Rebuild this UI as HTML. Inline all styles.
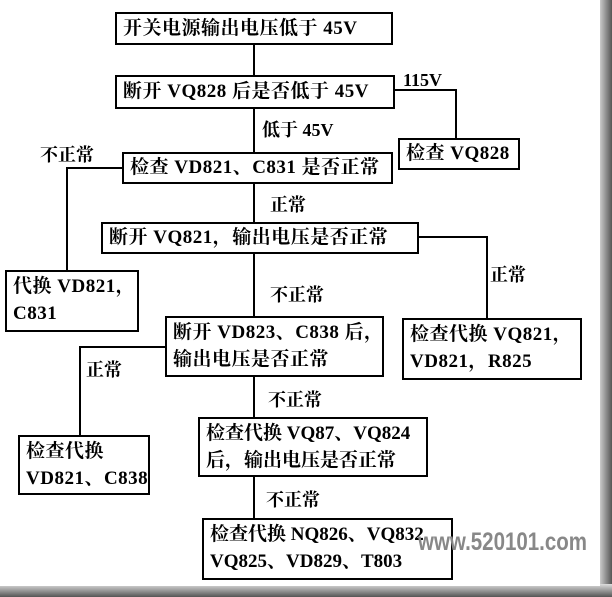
<!DOCTYPE html>
<html><head><meta charset="utf-8"><style>
html,body{margin:0;padding:0;background:#fff;}
body{width:612px;height:597px;position:relative;overflow:hidden;font-family:"Liberation Serif","Noto Serif CJK SC","Noto Sans CJK SC",serif;font-weight:bold;color:#000;}
.b{position:absolute;border:2px solid #000;box-sizing:border-box;font-size:19px;line-height:27px;padding:1px 6px 0;white-space:nowrap;background:#fff;letter-spacing:0.5px;}
.s{padding-top:0;}
.t{position:absolute;font-size:18px;line-height:20px;white-space:nowrap;}
.h{position:absolute;height:2px;background:#000;}
.v{position:absolute;width:2px;background:#000;}
</style></head><body>
<div style="position:absolute;left:598px;top:0;width:14px;height:597px;background:linear-gradient(to right,#ddd,#555);"></div>
<div style="position:absolute;left:0;top:584px;width:612px;height:13px;background:linear-gradient(#ddd,#555);"></div>
<div style="position:absolute;left:0;top:0;width:600px;height:586px;background:#fff;"></div>

<div class="v" style="left:253px;top:44px;height:32px"></div>
<div class="v" style="left:253px;top:108px;height:45px"></div>
<div class="v" style="left:253px;top:183px;height:40px"></div>
<div class="v" style="left:253px;top:253px;height:64px"></div>
<div class="v" style="left:253px;top:376px;height:42px"></div>
<div class="v" style="left:253px;top:477px;height:42px"></div>
<div class="h" style="left:393px;top:89px;width:63px"></div>
<div class="v" style="left:455px;top:89px;height:50px"></div>
<div class="h" style="left:66px;top:167px;width:58px"></div>
<div class="v" style="left:66px;top:167px;height:104px"></div>
<div class="h" style="left:417px;top:236px;width:71px"></div>
<div class="v" style="left:486px;top:236px;height:83px"></div>
<div class="h" style="left:79px;top:346px;width:88px"></div>
<div class="v" style="left:79px;top:346px;height:90px"></div>

<div class="b s" style="left:115px;top:12px;width:278px;height:33px;line-height:29px;">开关电源输出电压低于 45V</div>
<div class="b s" style="left:115px;top:75px;width:280px;height:34px;line-height:30px;">断开 VQ828 后是否低于 45V</div>
<div class="b s" style="left:398px;top:138px;width:122px;height:32px;line-height:28px;">检查 VQ828</div>
<div class="b s" style="left:122px;top:152px;width:271px;height:32px;line-height:28px;">检查 VD821、C831 是否正常</div>
<div class="b s" style="left:101px;top:222px;width:318px;height:32px;line-height:28px;">断开 VQ821，输出电压是否正常</div>
<div class="b" style="left:5px;top:270px;width:134px;height:62px;">代换 VD821，<br>C831</div>
<div class="b" style="left:165px;top:316px;width:219px;height:61px;">断开 VD823、C838 后，<br>输出电压是否正常</div>
<div class="b" style="left:402px;top:318px;width:180px;height:62px;">检查代换 VQ821，<br>VD821，R825</div>
<div class="b" style="left:18px;top:435px;width:132px;height:60px;">检查代换<br>VD821、C838</div>
<div class="b" style="left:198px;top:417px;width:230px;height:60px;letter-spacing:0;">检查代换 VQ87、VQ824<br>后，输出电压是否正常</div>
<div class="b" style="left:202px;top:518px;width:251px;height:62px;letter-spacing:0;">检查代换 NQ826、VQ832<br>VQ825、VD829、T803</div>

<div class="t" style="left:403px;top:70px">115V</div>
<div class="t" style="left:262px;top:120px">低于 45V</div>
<div class="t" style="left:40px;top:145px">不正常</div>
<div class="t" style="left:270px;top:195px">正常</div>
<div class="t" style="left:490px;top:265px">正常</div>
<div class="t" style="left:270px;top:285px">不正常</div>
<div class="t" style="left:86px;top:360px">正常</div>
<div class="t" style="left:268px;top:390px">不正常</div>
<div class="t" style="left:266px;top:490px">不正常</div>
<div style="position:absolute;left:418px;top:528px;font-family:'Liberation Sans',sans-serif;font-size:25px;font-weight:bold;color:#888;transform:scaleX(0.82);transform-origin:left;">www.520101.com</div>
</body></html>
